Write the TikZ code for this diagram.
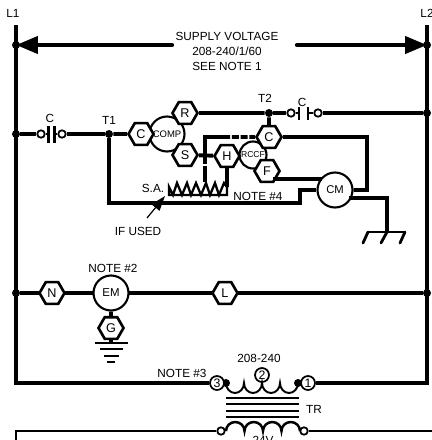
\documentclass[tikz,border=0pt]{standalone}
\usepackage{fontspec}
\setmainfont{Liberation Sans}
\usetikzlibrary{shapes.geometric,arrows.meta}
\begin{document}
\begin{tikzpicture}
[x=0.02cm,y=-0.02cm,font=\fontsize{6.7}{8.5}\selectfont,
  hexdecorate/.style={shape=regular polygon,regular polygon sides=6,draw,fill=white,line width=1.5pt,inner sep=0pt,minimum size=0.5cm,font=\fontsize{7.2}{8}\selectfont},%
  motordecorate/.style={shape=circle,draw,fill=white,line width=1.2pt,inner sep=0pt,minimum size=#1},%
  dotdecorate/.style={shape=circle,fill,inner sep=0pt,minimum size=0.16cm},%
  termdecorate/.style={shape=circle,draw,fill=white,line width=1pt,inner sep=0pt,minimum size=0.15cm},%
  numdecorate/.style={shape=circle,draw,fill=white,line width=1pt,inner sep=0pt,minimum size=0.28cm,font=\fontsize{7}{8}\selectfont},%
  busdecorate/.style={-,line width=2.7pt},%
  linedecorate/.style={-,line width=2.2pt},%
  wiredecorate/.style={-,line width=1.1pt},%
  dashdecorate/.style={-,line width=2.2pt,dash pattern=on 4pt off 1pt},%
  arrowdecorate/.style={line width=2.4pt,-{Triangle[length=0.44cm,width=0.34cm]},line cap=round}]
\useasboundingbox (0,0) rectangle (432,440);
%% bus corners and free ends
\foreach \nodename/\x/\y in {topa/16/25, topb/427/25, cornera/16/383, cornerb/427/383,
  lowa/16/431, lowb/432/431, lowc/16/440, supa/172/45, supb/297/45,
  jointa/205/137, jointb/205/155, jointc/205/182, jointd/223/137, jointe/205/148, jointf/205/168,
  lefta/169/187, leftb/169/195, rightb/227/195, righta/227/187, cmturn/367/137, cmin/367/190,
  bendt/109/203, bendn/300/203, bendm/300/190, fana/273/179, fanb/322/179, cmout/349/198,
  gndturn/387/198, gndtop/387/232, gnda/368/232, gndb/405/232, gnda1/363/243, gndb1/381/243, gndc1/400/243,
  ifstart/147/218, iftip/165/196, plate/111/343,
  platea/48.5/134, plateb/54.5/134, platec/299/113, plated/308/113}
{
  \coordinate (\nodename) at (\x,\y);
}
%% dots on the lines
\foreach \nodename/\x/\y in {la/16/45, lb/16/134, lc/16/293, ra/427/45, rb/427/113,
  rc/427/293, tone/109/134, ttwo/269/113, primc/226/383, prima/298/383}
{
  \node (\nodename) at (\x,\y) [dotdecorate] {};
}
%% contact terminals
\foreach \nodename/\x/\y in {ca/41/134, cb/62/134, cc/291/113, cd/318/113, seca/221/431, secb/304/431}
{
  \node (\nodename) at (\x,\y) [termdecorate] {};
}
%% transformer terminals
\foreach \nodename/\x/\y/\text in {numc/217/383/3, numb/262/375/2, numa/308/383/1}
{
  \node (\nodename) at (\x,\y) [numdecorate] {\text};
}
%% lines
\draw [busdecorate] (numc) -- (cornera) -- (topa);
\draw [busdecorate] (numa) -- (cornerb) -- (topb);
\draw [wiredecorate] (lowc) -- (lowa) -- (seca) (secb) -- (lowb);
\draw [arrowdecorate] (supa) -- (la.center);
\draw [arrowdecorate] (supb) -- (ra.center);
\path
\foreach \startnode/\endnode in {lb/ca, cb/tone, cd/rb, ttwo/cc, lc/rc} {
  (\startnode) edge[linedecorate] node {} (\endnode)
};
%% contact plates
\draw [wiredecorate,line width=1.4pt] (48.5,126) -- (48.5,143) (54.5,126) -- (54.5,143);
\draw [wiredecorate,line width=1.4pt] (299,107) -- (299,120) (308,107) -- (308,120);
\path
\foreach \startnode/\endnode in {ca/platea, plateb/cb, cc/platec, plated/cd} {
  (\startnode) edge[wiredecorate,line width=1.4pt] node {} (\endnode)
};
%% motors and terminals
\foreach \nodename/\x/\y/\size/\text/\textsize in {comp/167/134/0.70cm/COMP/5.4, rccf/253/155/0.54cm/RCCF/4.9,
  cm/335/190/0.70cm/CM/6.4, em/111/293/0.70cm/EM/6.5}
{
  \node (\nodename) at (\x,\y) [motordecorate=\size] {\fontsize{\textsize}{7}\selectfont\text};
}
\foreach \nodename/\x/\y/\text in {hc/141/134/C, hr/185/113/R, hs/185/155/S, hh/227/156/H,
  hcc/269/137/C, hf/267/171/F, hn/52/293/N, hl/225/293/L, hg/111/328/G}
{
  \node (\nodename) at (\x,\y) [hexdecorate] {\text};
}
\draw [linedecorate] (tone) -- (hc);
\draw [linedecorate] (hr) -- (ttwo);
\draw [linedecorate] (ttwo) -- (hcc);
\draw [linedecorate] (hs) -- (hh);
\draw [linedecorate] (tone) -- (bendt) -- (bendn) -- (bendm) -- (cm);
\draw [linedecorate] (hcc) -- (cmturn) -- (cmin) -- (cm);
\draw [linedecorate] (fana) -- (fanb);
\draw [linedecorate] (hh) -- (righta);
\draw [linedecorate] (jointe) -- (jointa) -- (jointd);
\draw [dashdecorate] (jointd) -- (hcc);
\draw [dashdecorate] (jointe) -- (jointf);
\draw [linedecorate] (jointf) -- (jointc);
\draw [linedecorate] (cmout) -- (gndturn) -- (gndtop);
\draw [linedecorate,line width=1.6pt] (gnda) -- (gndb);
\draw [linedecorate,line width=1.6pt,line cap=round] (gnda) -- (gnda1) (gndtop) -- (gndb1) (gndb) -- (gndc1);
\draw [linedecorate] (em) -- (hg) -- (plate);
%% heater
\draw [wiredecorate,line width=1.3pt] (leftb) -- (lefta) -- (173,195) -- (177,183) -- (182,195) -- (187,183)
  -- (191,195) -- (196,183) -- (201,195) -- (206,183) -- (210,195) -- (215,183) -- (219,195) -- (224,183)
  -- (righta) -- (rightb) -- cycle;
%% ground of EM
\foreach \xa/\xb/\y in {95/128/343, 100/123/349, 104/119/356, 107/115/362}
{
  \draw [line width=1.5pt] (\xa,\y) -- (\xb,\y);
}
%% arrow to heater
\draw [-{Triangle[length=0.3cm,width=0.2cm]},line width=0.7pt] (ifstart) -- (iftip);
%% transformer
\draw [wiredecorate] (primc.center) arc (180:0:9 and 10) arc (180:0:9 and 10) arc (180:0:9 and 10) arc (180:0:9 and 10);
\draw [wiredecorate,line width=1.4pt] (226,431) arc (180:0:9.25 and -9) arc (180:0:9.25 and -9) arc (180:0:9.25 and -9) arc (180:0:9.25 and -9);
\foreach \y in {398,404,411,417}
{
  \draw [wiredecorate] (226,\y) -- (299,\y);
}
%% labels
\foreach \nodename/\x/\y/\text in {lone/13/13/L1, ltwo/427/13/L2, labca/50/118/C, labta/109/120/T1,
  labtb/265/98/T2, labcb/302/102/C, labsa/153/188/S.A., labnf/258/196/NOTE \#4, labif/138/231/IF USED,
  labne/113/268/NOTE \#2, labnt/182/373/NOTE \#3, labhv/259/358/208-240, labtr/314/409/TR, lablv/263/440/24V}
{
  \node (\nodename) at (\x,\y) {\text};
}
\node (supply) at (227,51.5) [align=center] {SUPPLY VOLTAGE\\208-240/1/60\\SEE NOTE 1};
\end{tikzpicture}
\end{document}
